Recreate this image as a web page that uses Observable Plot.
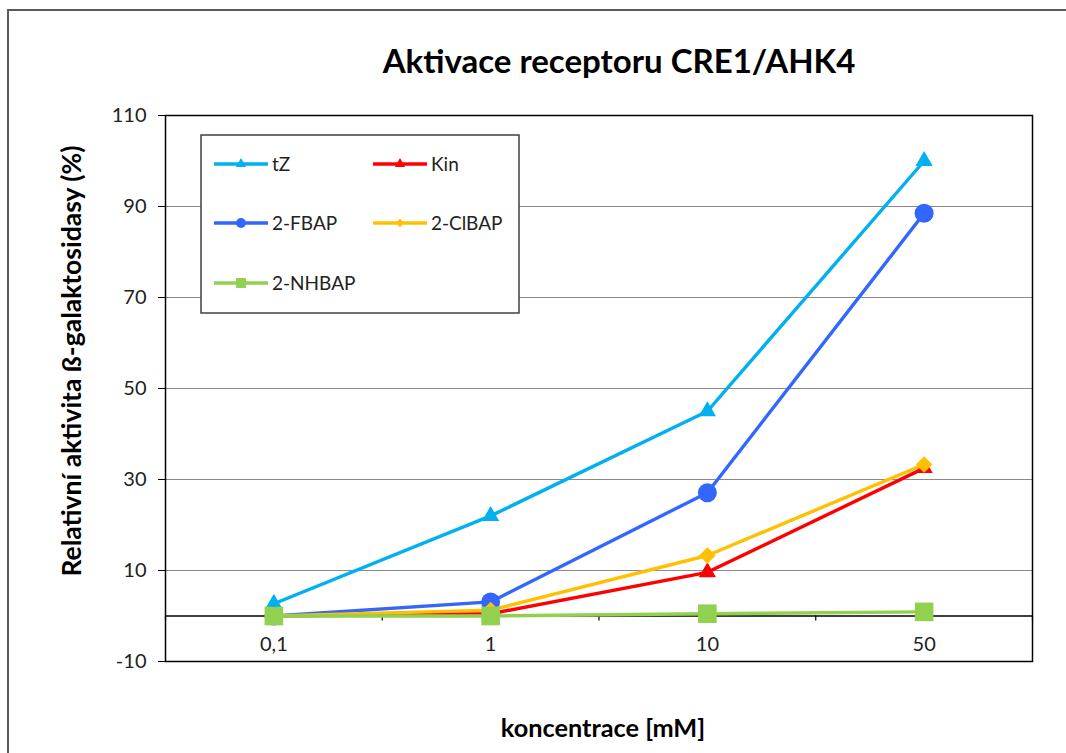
<!DOCTYPE html>
<html><head><meta charset="utf-8">
<script src="https://cdn.jsdelivr.net/npm/d3@7"></script>
<script src="https://cdn.jsdelivr.net/npm/@observablehq/plot@0.6"></script>
<style>html,body{margin:0;padding:0;background:#fff;} svg{display:block}</style>
</head><body><div id="chart"></div>
<script>
// ---- data ----
const categories = ["0,1", "1", "10", "50"];
const seriesNames = ["tZ", "Kin", "2-FBAP", "2-ClBAP", "2-NHBAP"];
const seriesColors = ["#00B0F0", "#FF0000", "#3366FF", "#FFC000", "#92D050"];
const tZ = [2.7, 22, 45, 100];
const kin = [0, 0.5, 9.6, 32.5];
const fbap = [0, 3.1, 27.1, 88.5];
const clbap = [0, 1.3, 13.3, 33.3];
const nhbap = [0, 0, 0.5, 0.9];
const yTicks = [-10, 10, 30, 50, 70, 90, 110];
const gridTicks = [10, 30, 50, 70, 90];
const boundaries = [-0.5, 0.5, 1.5, 2.5, 3.5];
const titleText = "Aktivace receptoru CRE1/AHK4";
const yLabel = "Relativní aktivita ß-galaktosidasy (%)";
const xLabel = "koncentrace [mM]";

const seriesValues = [tZ, kin, fbap, clbap, nhbap];

// ---- styles ----
const diamondSym = {draw(ctx, size) {const r = Math.sqrt(size / 2); ctx.moveTo(0, -r); ctx.lineTo(r, 0); ctx.lineTo(0, r); ctx.lineTo(-r, 0); ctx.closePath();}};
const seriesSymbols = [d3.symbolTriangle, d3.symbolTriangle, d3.symbolCircle, diamondSym, d3.symbolSquare];
const markerR = [6.4, 6.4, 9.5, 6.6, 10.5];
const legendR = [3.8, 3.8, 5, 3.4, 5.6];
const FONT = "Lato, 'Open Sans', sans-serif";

const rows = seriesNames.map((s, k) => seriesValues[k].map((v, i) => ({series: s, i, v})));

const seriesMarks = rows.flatMap((data, k) => [
  Plot.line(data, {x: "i", y: "v", stroke: seriesColors[k], strokeWidth: 3.4}),
  Plot.dot(data, {x: "i", y: "v", symbol: seriesSymbols[k], r: markerR[k], fill: seriesColors[k], stroke: "none"})
]);

const plot = Plot.plot({
  width: 1066,
  height: 753,
  marginLeft: 165,
  marginRight: 34,
  marginTop: 115,
  marginBottom: 92,
  style: {fontFamily: FONT, fontSize: "20px", color: "#222", background: "#fff"},
  x: {type: "linear", domain: [-0.5, 3.5], axis: null},
  y: {domain: [-10, 110], axis: null},
  marks: [
    Plot.ruleY(gridTicks, {stroke: "#8a8a8a", strokeWidth: 1}),
    Plot.ruleY([0], {stroke: "#000", strokeWidth: 1.3}),
    Plot.ruleX(boundaries, {y1: 0, y2: -1.1, stroke: "#000", strokeWidth: 1.2}),
    Plot.frame({stroke: "#000", strokeWidth: 1.5}),
    Plot.axisY(yTicks, {anchor: "left", tickSize: 7, tickPadding: 12, stroke: "#000", fill: "#222", fontSize: 20, label: null, tickFormat: d => String(d)}),
    Plot.text(categories, {x: (d, i) => i, y: 0, dy: 29, text: d => d, fill: "#222", fontSize: 20}),
    ...seriesMarks
  ]
});

document.getElementById("chart").appendChild(plot);
const svg = d3.select(plot);

// outer chart frame
svg.insert("rect", ":first-child")
  .attr("x", 8).attr("y", 10).attr("width", 1200).attr("height", 900)
  .attr("fill", "none").attr("stroke", "#595959").attr("stroke-width", 2);

// title
svg.append("text").attr("x", 619).attr("y", 73).attr("text-anchor", "middle")
  .attr("font-family", FONT).attr("font-weight", "bold").attr("font-size", 33).attr("fill", "#000")
  .text(titleText);

// y label
svg.append("text").attr("transform", "translate(81,361) rotate(-90)").attr("text-anchor", "middle")
  .attr("font-family", FONT).attr("font-weight", "bold").attr("font-size", 26.5).attr("fill", "#000")
  .text(yLabel);

// x label
svg.append("text").attr("x", 603).attr("y", 737).attr("text-anchor", "middle")
  .attr("font-family", FONT).attr("font-weight", "bold").attr("font-size", 25.3).attr("fill", "#000")
  .text(xLabel);

// legend
const lg = svg.append("g");
lg.append("rect").attr("x", 201).attr("y", 135).attr("width", 318).attr("height", 178)
  .attr("fill", "#fff").attr("stroke", "#404040").attr("stroke-width", 1.5);
const legPos = [[214, 164], [373, 164], [214, 223], [373, 223], [214, 283]];
seriesNames.forEach((name, k) => {
  const [lx, ly] = legPos[k];
  const g = lg.append("g");
  g.append("line").attr("x1", lx).attr("x2", lx + 54).attr("y1", ly).attr("y2", ly)
    .attr("stroke", seriesColors[k]).attr("stroke-width", 3.5);
  g.append("path").attr("transform", `translate(${lx + 27},${ly})`)
    .attr("d", d3.symbol(seriesSymbols[k], Math.PI * legendR[k] * legendR[k])())
    .attr("fill", seriesColors[k]);
  g.append("text").attr("x", lx + 58).attr("y", ly).attr("dy", "0.35em").attr("text-anchor", "start")
    .attr("font-family", FONT).attr("font-size", 19).attr("fill", "#222").text(name);
});
</script>
</body></html>
